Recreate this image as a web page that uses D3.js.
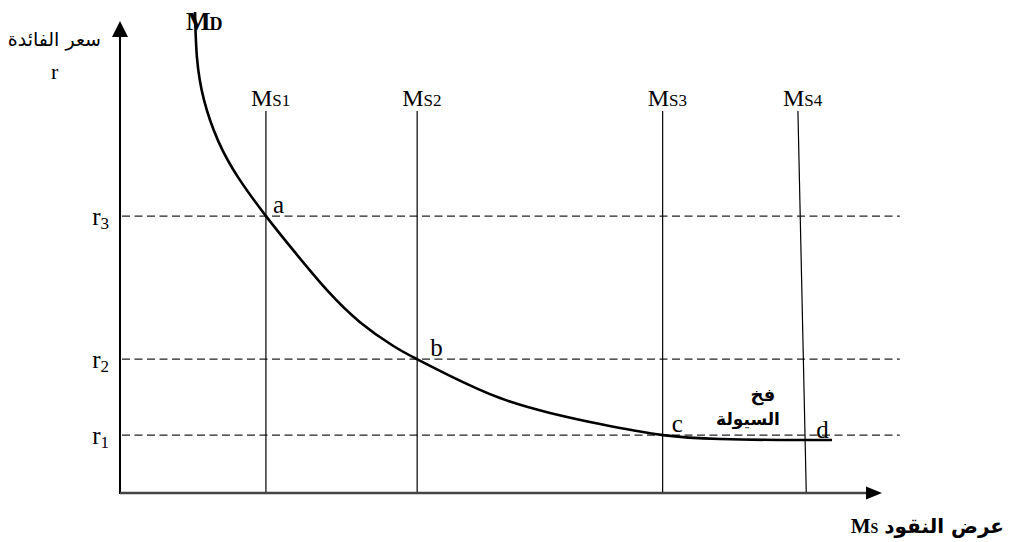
<!DOCTYPE html>
<html>
<head>
<meta charset="utf-8">
<script src="https://cdn.jsdelivr.net/npm/d3@7"></script>
<style>
  html, body { margin: 0; padding: 0; background: #fff; }
  svg { display: block; }
  .serif { font-family: "Liberation Serif", "Times New Roman", serif; }
  .arabic { font-family: "DejaVu Sans", sans-serif; }
</style>
</head>
<body>
<svg id="chart" width="1013" height="542"></svg>
<script>
// Money supply positions (vertical supply lines), in money units
const supplyNames = ["S1", "S2", "S3", "S4"];
const supplyTop = [1.92, 3.91, 7.14, 8.92];
const supplyBottom = [1.92, 3.91, 7.14, 9.03];

// Interest-rate levels (dashed reference lines)
const rateNames = ["3", "2", "1"];
const rateValues = [5.98, 2.89, 1.25];

// Equilibrium point labels
const pointNames = ["a", "b", "c", "d"];
const pointQty = [1.92, 3.91, 7.14, 9.03];
const pointRate = [5.98, 2.89, 1.25, 1.25];

// Money demand curve (liquidity preference), flattening into the liquidity trap
const demandQty = [0.987, 1.013, 1.105, 1.293, 1.561, 1.921,
                   2.276, 2.724, 3.158, 3.592, 3.908, 4.342, 5.000,
                   5.658, 6.316, 7.145, 7.895, 8.684, 9.368];
const demandRate = [10.39, 9.40, 8.49, 7.60, 6.80, 5.98,
                    5.25, 4.38, 3.69, 3.18, 2.89, 2.53, 2.05,
                    1.73, 1.49, 1.25, 1.166, 1.145, 1.145];

const svg = d3.select("#chart");

const x = d3.scaleLinear().domain([0, 10]).range([120, 880]);
const y = d3.scaleLinear().domain([0, 10]).range([493, 30]);

const qMax = 10.26;          // right end of the dashed rate lines
const supplyTopRate = 8.25;  // top of the supply lines

// Dashed interest-rate lines
svg.append("g").selectAll("line")
  .data(rateValues)
  .join("line")
  .attr("x1", x(0) + 2).attr("x2", x(qMax))
  .attr("y1", d => y(d)).attr("y2", d => y(d))
  .attr("stroke", "#222").attr("stroke-width", 1.2)
  .attr("stroke-dasharray", "8,4.5");

// Vertical money supply lines
svg.append("g").selectAll("line")
  .data(supplyNames)
  .join("line")
  .attr("x1", (d, i) => x(supplyTop[i])).attr("x2", (d, i) => x(supplyBottom[i]))
  .attr("y1", y(supplyTopRate)).attr("y2", y(0))
  .attr("stroke", "#000").attr("stroke-width", 1.2);

// Money demand curve
const line = d3.line()
  .x(d => x(d[0])).y(d => y(d[1]))
  .curve(d3.curveNatural);
svg.append("path")
  .datum(demandQty.map((q, i) => [q, demandRate[i]]))
  .attr("d", line)
  .attr("fill", "none").attr("stroke", "#000").attr("stroke-width", 2.6);

// Axes with arrowheads
svg.append("line")
  .attr("x1", x(0)).attr("x2", x(0)).attr("y1", y(0) + 1).attr("y2", y(10) + 6)
  .attr("stroke", "#000").attr("stroke-width", 2);
svg.append("path")
  .attr("d", `M${x(0)},${y(10) - 9} L${x(0) - 8},${y(10) + 7} L${x(0) + 8},${y(10) + 7} Z`)
  .attr("fill", "#000");
svg.append("line")
  .attr("x1", x(0)).attr("x2", 867).attr("y1", y(0)).attr("y2", y(0))
  .attr("stroke", "#444").attr("stroke-width", 2.4);
svg.append("path")
  .attr("d", `M882,${y(0)} L866,${y(0) - 6.5} L866,${y(0) + 6.5} Z`)
  .attr("fill", "#000");

// Supply line labels: M with subscript
supplyNames.forEach((name, i) => {
  const t = svg.append("text").attr("class", "serif")
    .attr("x", x(supplyTop[i]) - 15).attr("y", 106)
    .attr("font-size", 24).attr("fill", "#000");
  t.append("tspan").text("M");
  t.append("tspan").attr("font-size", 17).text(name);
});

// Rate labels r3, r2, r1
rateNames.forEach((name, i) => {
  const t = svg.append("text").attr("class", "serif")
    .attr("x", x(0) - 11).attr("y", y(rateValues[i]) + 9)
    .attr("text-anchor", "end")
    .attr("font-size", 25).attr("fill", "#000");
  t.append("tspan").text("r");
  t.append("tspan").attr("font-size", 17).attr("dy", 4).text(name);
});

// Point labels a, b, c, d
const pointDx = [7, 13, 9, 10];
const pointDy = [-3, -3, -3, 3];
pointNames.forEach((name, i) => {
  svg.append("text").attr("class", "serif")
    .attr("x", x(pointQty[i]) + pointDx[i]).attr("y", y(pointRate[i]) + pointDy[i])
    .attr("font-size", 25).attr("fill", "#000")
    .text(name);
});

// Demand curve label M_D
const md = svg.append("text").attr("class", "serif")
  .attr("x", 186).attr("y", 30)
  .attr("font-size", 26).attr("font-weight", "bold").attr("fill", "#000");
md.append("tspan").text("M");
md.append("tspan").attr("font-size", 18).attr("dx", -1).text("D");

// Y-axis title
svg.append("text").attr("class", "arabic")
  .attr("x", 101).attr("y", 46).attr("text-anchor", "end")
  .attr("font-size", 19).attr("fill", "#000")
  .text("سعر الفائدة");
svg.append("text").attr("class", "serif")
  .attr("x", 51).attr("y", 79)
  .attr("font-size", 22).attr("fill", "#000")
  .text("r");

// X-axis title: Arabic words with M_S to their left
const xTitle = svg.append("text").attr("class", "arabic")
  .attr("x", 1004).attr("y", 533).attr("text-anchor", "end")
  .attr("font-size", 20).attr("font-weight", "bold").attr("fill", "#000")
  .text("عرض النقود");
const titleStart = 1004 - xTitle.node().getComputedTextLength();
const ms = svg.append("text").attr("class", "serif")
  .attr("x", titleStart - 6).attr("y", 533).attr("text-anchor", "end")
  .attr("font-size", 21).attr("font-weight", "bold").attr("fill", "#000");
ms.append("tspan").text("M");
ms.append("tspan").attr("font-size", 14).text("S");

// Liquidity trap annotation
svg.append("text").attr("class", "arabic")
  .attr("x", 763).attr("y", 401).attr("text-anchor", "middle")
  .attr("font-size", 18).attr("font-weight", "bold").attr("fill", "#000")
  .text("فخ");
svg.append("text").attr("class", "arabic")
  .attr("x", 748).attr("y", 425).attr("text-anchor", "middle")
  .attr("font-size", 17).attr("font-weight", "bold").attr("fill", "#000")
  .text("السيولة");
</script>
</body>
</html>
